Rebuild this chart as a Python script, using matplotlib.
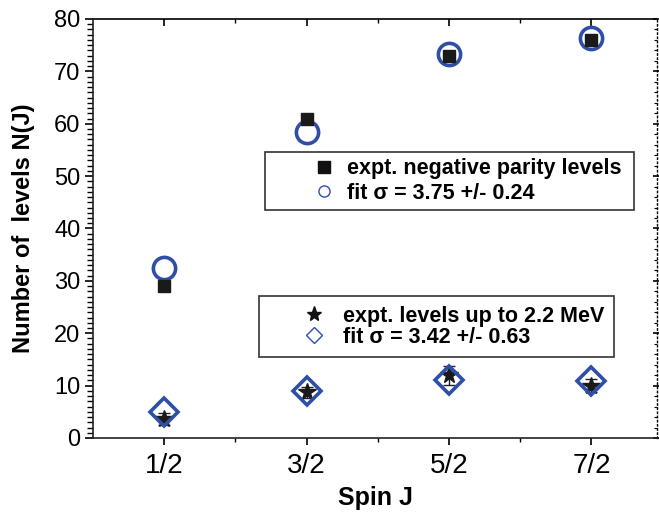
import matplotlib
matplotlib.use("Agg")
import matplotlib.pyplot as plt
from matplotlib.lines import Line2D
from matplotlib.ticker import MultipleLocator, FixedLocator, NullFormatter

plt.rcParams['font.family'] = ['Liberation Sans', 'DejaVu Sans']

spins = [0.5, 1.5, 2.5, 3.5]
spin_labels = ["1/2", "3/2", "5/2", "7/2"]

neg_parity = [29.0, 61.0, 73.0, 76.0]
fit_neg = [32.4, 58.4, 73.3, 76.3]

levels_22 = [3.6, 8.7, 12.0, 10.0]
levels_22_err = [1.2, 1.0, 1.8, 1.3]
fit_22 = [5.0, 9.0, 11.0, 10.8]

blue = "#2f4fa6"

fig = plt.figure(figsize=(6.59, 5.12), dpi=100)
ax = fig.add_axes([93/659, 1 - 438/512, (657-93)/659, (438-19)/512])

ax.errorbar(spins, levels_22, yerr=levels_22_err, fmt='none', ecolor='#222222',
            elinewidth=1.0, capsize=4, capthick=1.0, zorder=3)
ax.plot(spins, levels_22, linestyle='none', marker='*', markersize=13,
        color='#1a1a1a', zorder=4)
ax.plot(spins, fit_22, linestyle='none', marker='D', markersize=14,
        markerfacecolor='none', markeredgecolor=blue, markeredgewidth=2.6, zorder=5)

ax.plot(spins, fit_neg, linestyle='none', marker='o', markersize=16,
        markerfacecolor='none', markeredgecolor=blue, markeredgewidth=2.6, zorder=3)
ax.plot(spins, neg_parity, linestyle='none', marker='s', markersize=9,
        color='#1a1a1a', zorder=4)

ax.set_xlim(0, 3.96)
ax.set_ylim(0, 80)
ax.xaxis.set_major_locator(FixedLocator(spins))
ax.set_xticklabels(spin_labels)
ax.xaxis.set_minor_locator(FixedLocator([1, 2, 3]))
ax.yaxis.set_major_locator(MultipleLocator(10))
ax.yaxis.set_minor_locator(MultipleLocator(1))

ax.tick_params(axis='x', which='major', direction='out', length=5, width=1.2,
               labelsize=20, pad=6)
ax.tick_params(axis='x', which='minor', direction='out', length=3, width=1.0)
ax.tick_params(axis='y', which='major', direction='out', length=6, width=1.2,
               labelsize=17, pad=3)
ax.tick_params(axis='y', which='minor', direction='out', length=4, width=1.0)

# top and right axes with inward ticks
top = ax.secondary_xaxis('top')
top.xaxis.set_major_locator(FixedLocator(spins))
top.xaxis.set_minor_locator(FixedLocator([1, 2, 3]))
top.xaxis.set_major_formatter(NullFormatter())
top.tick_params(which='major', direction='in', length=5, width=1.2)
top.tick_params(which='minor', direction='in', length=3, width=1.0)
top.spines['top'].set_linewidth(1.2)

right = ax.secondary_yaxis('right')
right.yaxis.set_major_locator(MultipleLocator(10))
right.yaxis.set_minor_locator(MultipleLocator(2))
right.yaxis.set_major_formatter(NullFormatter())
right.tick_params(which='major', direction='inout', length=6, width=1.2)
right.tick_params(which='minor', direction='in', length=2, width=0.8)
right.spines['right'].set_linestyle((0, (1, 2)))
right.spines['right'].set_linewidth(1.0)

for s in ['left', 'bottom']:
    ax.spines[s].set_linewidth(1.2)
    ax.spines[s].set_color('#222222')
ax.spines['top'].set_visible(False)
ax.spines['right'].set_visible(False)

ax.set_xlabel("Spin J", fontsize=18, fontweight='bold', labelpad=5)
ax.set_ylabel("Number of  levels N(J)", fontsize=17, fontweight='bold', labelpad=14)

fs = 15.5
h1 = [Line2D([], [], linestyle='none', marker='s', markersize=8, color='#111111'),
      Line2D([], [], linestyle='none', marker='o', markersize=8, markerfacecolor='none',
             markeredgecolor=blue, markeredgewidth=1.0)]
leg1 = ax.legend(h1, ["expt. negative parity levels ", "fit \u03c3 = 3.75 +/- 0.24"],
                 loc='upper left', bbox_to_anchor=((265-93)/564, (438-152)/419),
                 borderaxespad=0, borderpad=0.3, handlelength=4.9, handletextpad=-1.38,
                 labelspacing=0.15, numpoints=1, fancybox=False, framealpha=1,
                 edgecolor='#333333', prop={'weight': 'bold', 'size': fs})
leg1.get_frame().set_linewidth(1.2)
ax.add_artist(leg1)

h2 = [Line2D([], [], linestyle='none', marker='*', markersize=11, color='#111111'),
      Line2D([], [], linestyle='none', marker='D', markersize=8, markerfacecolor='none',
             markeredgecolor=blue, markeredgewidth=1.0)]
leg2 = ax.legend(h2, ["expt. levels up to 2.2 MeV", "fit \u03c3 = 3.42 +/- 0.63"],
                 loc='upper left', bbox_to_anchor=((259-93)/564, (438-296)/419),
                 borderaxespad=0, borderpad=0.45, handlelength=4.25, handletextpad=-0.8,
                 labelspacing=0.0, numpoints=1, fancybox=False, framealpha=1,
                 edgecolor='#333333', prop={'weight': 'bold', 'size': fs})
leg2.get_frame().set_linewidth(1.2)

fig.savefig("out.png", dpi=100)
